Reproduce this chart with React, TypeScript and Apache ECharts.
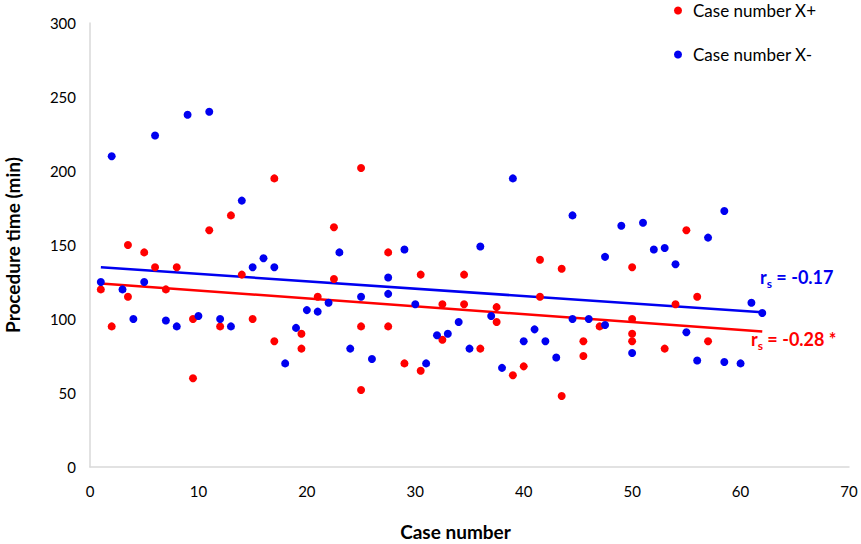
import React, { useEffect, useRef } from "react";
import * as echarts from "echarts";

// Case number X+ (red) : [case number, procedure time (min)]
const casesXPlus: [number, number][] = [
  [1, 120], [2, 95], [3.5, 150], [3.5, 115], [5, 145], [6, 135], [7, 120], [8, 135],
  [9.5, 100], [9.5, 60], [11, 160], [12, 95], [13, 170], [14, 130], [15, 100], [17, 195],
  [17, 85], [19.5, 90], [19.5, 80], [21, 115], [22.5, 162], [22.5, 127], [25, 202], [25, 95],
  [25, 52], [27.5, 145], [27.5, 95], [29, 70], [30.5, 130], [30.5, 65], [32.5, 110], [32.5, 86],
  [34.5, 130], [34.5, 110], [36, 80], [37.5, 108], [37.5, 98], [39, 62], [40, 68], [41.5, 140],
  [41.5, 115], [43.5, 134], [43.5, 48], [45.5, 85], [45.5, 75], [47, 95], [50, 135], [50, 100],
  [50, 90], [50, 85], [53, 80], [54, 110], [55, 160], [56, 115], [57, 85],
];

// Case number X- (blue)
const casesXMinus: [number, number][] = [
  [1, 125], [2, 210], [3, 120], [4, 100], [5, 125], [6, 224], [7, 99], [8, 95], [9, 238],
  [10, 102], [11, 240], [12, 100], [13, 95], [14, 180], [15, 135], [16, 141], [17, 135],
  [18, 70], [19, 94], [20, 106], [21, 105], [22, 111], [23, 145], [24, 80], [25, 115],
  [26, 73], [27.5, 128], [27.5, 117], [29, 147], [30, 110], [31, 70], [32, 89], [33, 90],
  [34, 98], [35, 80], [36, 149], [37, 102], [38, 67], [39, 195], [40, 85], [41, 93], [42, 85],
  [43, 74], [44.5, 170], [44.5, 100], [46, 100], [47.5, 142], [47.5, 96], [49, 163], [50, 77],
  [51, 165], [52, 147], [53, 148], [54, 137], [55, 91], [56, 72], [57, 155], [58.5, 173],
  [58.5, 71], [60, 70], [61, 111], [62, 104],
];

// Trend lines (endpoints)
const trendXPlus: [number, number][] = [[1, 124], [62, 91.5]];
const trendXMinus: [number, number][] = [[1, 135], [62, 104.5]];

const seriesNames = ["Case number X+", "Case number X-"];
const correlationLabels = ["-0.28 *", "-0.17"];

const RED = "#FF0000";
const BLUE = "#0000F0";
const FONT = "Lato";

export default function App() {
  const ref = useRef<HTMLDivElement>(null);

  useEffect(() => {
    document.body.style.margin = "0";
    if (!ref.current) return;
    const chart = echarts.init(ref.current, undefined, { renderer: "svg" });

    const richFor = (color: string) => ({
      a: { fontSize: 18, fontWeight: "bold", fill: color, fontFamily: FONT, lineHeight: 24 },
      b: { fontSize: 12, fontWeight: "bold", fill: color, fontFamily: FONT, lineHeight: 12, verticalAlign: "bottom" },
    });

    chart.setOption({
      animation: false,
      backgroundColor: "#ffffff",
      textStyle: { fontFamily: FONT },
      grid: { left: 90, right: 12, top: 23, bottom: 77, containLabel: false, outerBoundsMode: "none" },
      legend: {
        data: seriesNames,
        orient: "vertical",
        left: 674,
        top: 2,
        padding: 0,
        icon: "circle",
        itemWidth: 8,
        itemHeight: 8,
        itemGap: 27,
        textStyle: { fontSize: 17, color: "#000", fontFamily: FONT, padding: [0, 0, 0, 6] },
      },
      xAxis: {
        type: "value",
        min: 0,
        max: 70,
        interval: 10,
        name: "Case number",
        nameLocation: "middle",
        nameGap: 55,
        nameTextStyle: { fontSize: 19, fontWeight: "bold", color: "#000", fontFamily: FONT, padding: [0, 28, 0, 0] },
        axisLine: { show: true, lineStyle: { color: "#d9d9d9", width: 1.5 } },
        axisTick: { show: false },
        splitLine: { show: false },
        axisLabel: { fontSize: 15, color: "#000", margin: 16, fontFamily: FONT },
      },
      yAxis: {
        type: "value",
        min: 0,
        max: 300,
        interval: 50,
        name: "Procedure time (min)",
        nameLocation: "middle",
        nameGap: 68,
        nameTextStyle: { fontSize: 19, fontWeight: "bold", color: "#000", fontFamily: FONT },
        axisLine: { show: true, lineStyle: { color: "#d9d9d9", width: 1.5 } },
        axisTick: { show: false },
        splitLine: { show: false },
        axisLabel: { fontSize: 15, color: "#000", margin: 14, fontFamily: FONT },
      },
      series: [
        {
          name: seriesNames[0],
          type: "scatter",
          data: casesXPlus,
          symbolSize: 8,
          itemStyle: { color: RED, opacity: 1 },
          z: 3,
        },
        {
          name: seriesNames[1],
          type: "scatter",
          data: casesXMinus,
          symbolSize: 8,
          itemStyle: { color: BLUE, opacity: 1 },
          z: 3,
        },
        {
          name: "trendPlus",
          type: "line",
          data: trendXPlus,
          symbol: "none",
          lineStyle: { color: RED, width: 2.5 },
          z: 2,
          silent: true,
        },
        {
          name: "trendMinus",
          type: "line",
          data: trendXMinus,
          symbol: "none",
          lineStyle: { color: BLUE, width: 2.5 },
          z: 2,
          silent: true,
        },
      ],
      graphic: [
        {
          type: "text",
          left: 760,
          top: 268,
          style: { text: `{a|r}{b|s}{a| = ${correlationLabels[1]}}`, rich: richFor(BLUE) },
        },
        {
          type: "text",
          left: 751,
          top: 330,
          style: { text: `{a|r}{b|s}{a| = ${correlationLabels[0]}}`, rich: richFor(RED) },
        },
      ],
    });

    return () => chart.dispose();
  }, []);

  return <div ref={ref} style={{ width: 861, height: 544 }} />;
}
